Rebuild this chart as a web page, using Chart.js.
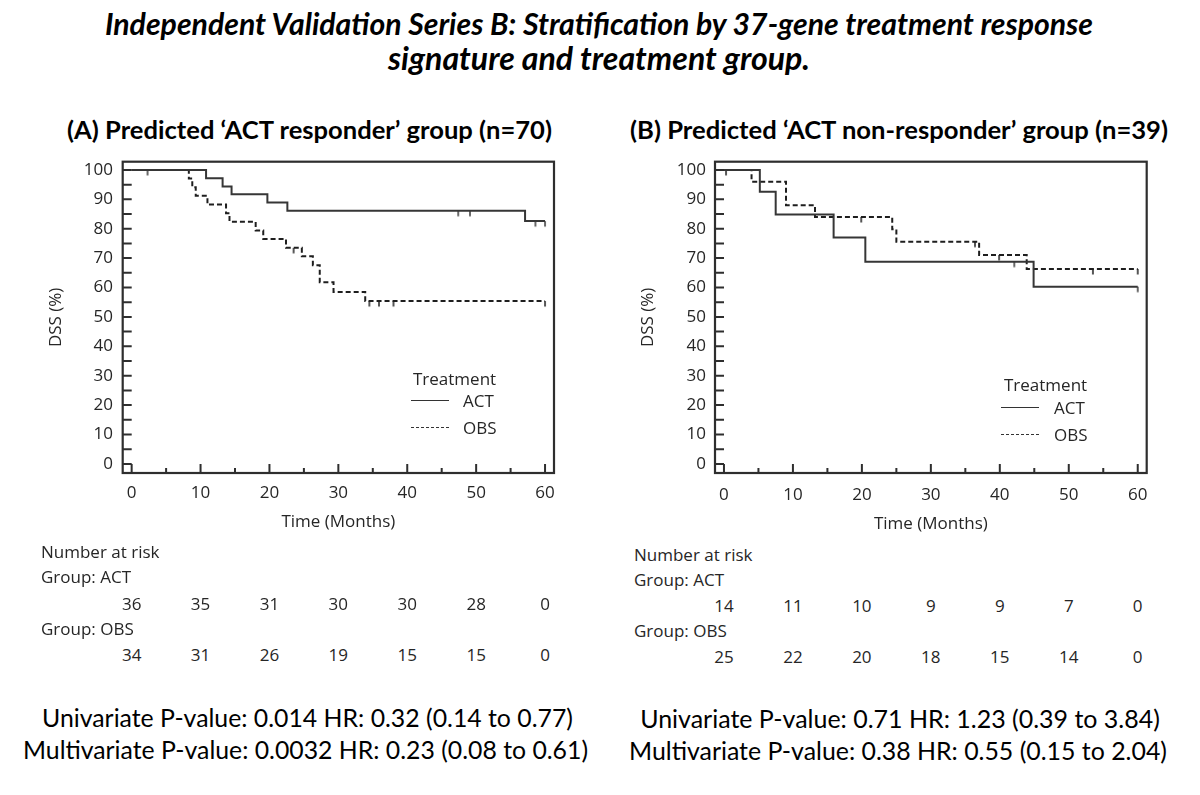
<!DOCTYPE html>
<html><head><meta charset="utf-8">
<script src="https://cdn.jsdelivr.net/npm/chart.js@4.4.1/dist/chart.umd.min.js"></script>
<style>
html,body{margin:0;padding:0;background:#fff;}
body{width:1200px;height:795px;position:relative;overflow:hidden;font-family:"Open Sans",sans-serif;}
.c{position:absolute;white-space:nowrap;line-height:1;transform:translate(-50%,-50%);}
.l{position:absolute;white-space:nowrap;line-height:1;transform:translate(0,-50%);}
.title{font-family:Lato,sans-serif;font-weight:700;font-style:italic;font-size:27px;color:#000;}
.sub{font-family:Lato,sans-serif;font-weight:700;font-size:21px;color:#000;}
.stat{font-family:Lato,sans-serif;font-size:22px;color:#000;}
.ax{font-size:17px;color:#262626;}
.wrap{position:absolute;}
.lg{position:absolute;height:0;width:38px;}
</style></head><body>
<div class="c title" style="left:599px;top:23px" data-w="988">Independent Validation Series B: Stratification by 37-gene treatment response</div>
<div class="c title" style="left:599px;top:58px" data-w="422">signature and treatment group.</div>
<div class="c sub" style="left:309.5px;top:130px" data-w="485">(A) Predicted ‘ACT responder’ group (n=70)</div>
<div class="c sub" style="left:899px;top:130px" data-w="538">(B) Predicted ‘ACT non-responder’ group (n=39)</div>

<div class="wrap" style="left:0;top:150px;width:600px;height:390px"><canvas id="cA" width="600" height="390"></canvas></div>
<div class="wrap" style="left:600px;top:150px;width:600px;height:390px"><canvas id="cB" width="600" height="390"></canvas></div>

<div class="l ax" style="left:413px;top:378px">Treatment</div>
<div class="lg" style="left:411px;top:400px;border-top:1px solid #333"></div>
<div class="l ax" style="left:463px;top:400px">ACT</div>
<div class="lg" style="left:411px;top:426.5px;border-top:1px dashed #333"></div>
<div class="l ax" style="left:463px;top:426.5px">OBS</div>

<div class="l ax" style="left:1004px;top:384px">Treatment</div>
<div class="lg" style="left:1001px;top:407px;border-top:1px solid #333"></div>
<div class="l ax" style="left:1054px;top:407px">ACT</div>
<div class="lg" style="left:1001px;top:434px;border-top:1px dashed #333"></div>
<div class="l ax" style="left:1054px;top:434px">OBS</div>

<div class="l ax" style="left:41px;top:551px">Number at risk</div>
<div class="l ax" style="left:41px;top:576px">Group: ACT</div>
<div class="l ax" style="left:41px;top:628px">Group: OBS</div>
<div class="l ax" style="left:634px;top:554px">Number at risk</div>
<div class="l ax" style="left:634px;top:579px">Group: ACT</div>
<div class="l ax" style="left:634px;top:630px">Group: OBS</div>
<div id="risk"></div>

<div class="c stat" style="left:307.5px;top:718px" data-w="531">Univariate P-value: 0.014 HR: 0.32 (0.14 to 0.77)</div>
<div class="c stat" style="left:305.5px;top:750px" data-w="565">Multivariate P-value: 0.0032 HR: 0.23 (0.08 to 0.61)</div>
<div class="c stat" style="left:900px;top:718px" data-w="520">Univariate P-value: 0.71 HR: 1.23 (0.39 to 3.84)</div>
<div class="c stat" style="left:898px;top:750px" data-w="538">Multivariate P-value: 0.38 HR: 0.55 (0.15 to 2.04)</div>

<script>
// ---- data ----
const timeTicks = [0, 10, 20, 30, 40, 50, 60];
const survTicks = [0, 10, 20, 30, 40, 50, 60, 70, 80, 90, 100];

// Panel A (ACT responder)
const aActTime = [0, 10.8, 13.2, 14.5, 19.7, 22.6, 57.1, 60];
const aActSurv = [100, 97.2, 94.4, 91.7, 88.9, 86.1, 82.6, 82.6];
const aActCensTime = [2.3, 47.4, 49.1, 58.6, 60];
const aActCensSurv = [100, 86.1, 86.1, 82.6, 82.6];
const aObsTime = [0, 8.3, 8.8, 9.3, 11.0, 13.7, 14.2, 18.0, 19.1, 22.4, 24.7, 26.3, 27.3, 29.3, 33.9, 60];
const aObsSurv = [100, 97.1, 94.1, 91.2, 88.2, 85.3, 82.4, 79.4, 76.5, 73.5, 70.6, 67.6, 61.8, 58.5, 55.4, 55.4];
const aObsCensTime = [23.5, 34.5, 35.9, 38.0, 60];
const aObsCensSurv = [73.5, 55.4, 55.4, 55.4, 55.4];

// Panel B (ACT non-responder)
const bActTime = [0, 5.2, 7.5, 15.9, 20.5, 44.9, 60];
const bActSurv = [100, 92.6, 84.8, 77.0, 68.8, 60.3, 60.3];
const bActCensTime = [42.1, 60];
const bActCensSurv = [68.8, 60.3];
const bObsTime = [0, 4.0, 9.0, 13.2, 24.4, 25.0, 37.0, 43.9, 60];
const bObsSurv = [100, 96.0, 88.0, 84.0, 79.8, 75.6, 71.1, 66.3, 66.3];
const bObsCensTime = [0.3, 19.9, 36.4, 39.9, 53.5, 60];
const bObsCensSurv = [100, 84.0, 75.6, 71.1, 66.3, 66.3];

// Number at risk
const riskA_ACT = [36, 35, 31, 30, 30, 28, 0];
const riskA_OBS = [34, 31, 26, 19, 15, 15, 0];
const riskB_ACT = [14, 11, 10, 9, 9, 7, 0];
const riskB_OBS = [25, 22, 20, 18, 15, 14, 0];

// ---- helpers ----
const zip = (t, s) => t.map((v, i) => ({x: v, y: s[i]}));
function censorMark(color) {
  const c = document.createElement('canvas');
  c.width = 4; c.height = 14;
  const g = c.getContext('2d');
  g.strokeStyle = color; g.lineWidth = 1.5;
  g.beginPath(); g.moveTo(2, 7); g.lineTo(2, 12.5); g.stroke();
  return c;
}
const ACT_COL = '#363636', OBS_COL = '#1e1e1e';
const axFont = {family: "'Open Sans'", size: 17};
const axColor = '#262626';

const frameTicks = {
  id: 'frameTicks',
  afterDraw(chart) {
    const {ctx, chartArea: a, scales: {x, y}} = chart;
    ctx.save();
    ctx.strokeStyle = '#2e2e2e';
    ctx.lineWidth = 2.2;
    ctx.strokeRect(a.left, a.top, a.right - a.left, a.bottom - a.top);
    ctx.lineWidth = 2;
    ctx.beginPath();
    for (let v = 0; v <= 100; v += 5) {
      const py = y.getPixelForValue(v);
      ctx.moveTo(a.left, py); ctx.lineTo(a.left + 9, py);
    }
    for (let t = 0; t <= 60; t += 5) {
      const px = x.getPixelForValue(t);
      const len = t % 10 === 0 ? 9 : 5;
      ctx.moveTo(px, a.bottom); ctx.lineTo(px, a.bottom - len);
    }
    ctx.stroke();
    ctx.restore();
  }
};

function makeChart(id, cfg) {
  return new Chart(document.getElementById(id), {
    type: 'scatter',
    data: {
      datasets: [
        {data: zip(cfg.actT, cfg.actS), showLine: true, stepped: true, borderColor: ACT_COL, borderWidth: 2, pointRadius: 0},
        {data: zip(cfg.obsT, cfg.obsS), showLine: true, stepped: true, borderColor: OBS_COL, borderWidth: 2, borderDash: [5, 3], pointRadius: 0},
        {data: zip(cfg.actCT, cfg.actCS), showLine: false, pointStyle: censorMark(ACT_COL), pointRadius: 3},
        {data: zip(cfg.obsCT, cfg.obsCS), showLine: false, pointStyle: censorMark(OBS_COL), pointRadius: 3}
      ]
    },
    options: {
      responsive: false,
      animation: false,
      events: [],
      layout: {padding: {top: 11.7, right: cfg.padRight, bottom: 0, left: 0}},
      plugins: {legend: {display: false}, tooltip: {enabled: false}},
      scales: {
        x: {
          type: 'linear', min: -1.3, max: 61.3,
          afterBuildTicks: s => { s.ticks = timeTicks.map(v => ({value: v})); },
          afterFit: s => { s.height = 67; },
          grid: {display: false, drawTicks: true, tickLength: cfg.xTickLen},
          border: {display: false},
          ticks: {font: axFont, color: axColor, padding: 0, maxRotation: 0, autoSkip: false},
          title: {display: true, text: 'Time (Months)', font: axFont, color: axColor, padding: {top: 0, bottom: cfg.xTitlePad}}
        },
        y: {
          type: 'linear', min: -3.1, max: 102.8,
          afterBuildTicks: s => { s.ticks = survTicks.map(v => ({value: v})); },
          afterFit: s => { s.width = cfg.yWidth; },
          grid: {display: false, drawTicks: true, tickLength: cfg.yTickLen},
          border: {display: false},
          ticks: {font: axFont, color: axColor, padding: 0, autoSkip: false},
          title: {display: true, text: 'DSS (%)', font: axFont, color: axColor, padding: {top: cfg.yTitlePad, bottom: 0}}
        }
      }
    },
    plugins: [frameTicks]
  });
}

const chartA = makeChart('cA', {
  actT: aActTime, actS: aActSurv, obsT: aObsTime, obsS: aObsSurv,
  actCT: aActCensTime, actCS: aActCensSurv, obsCT: aObsCensTime, obsCS: aObsCensSurv,
  padRight: 46, yWidth: 122.7, xTickLen: 9.8, xTitlePad: 7.8, yTickLen: 9.7, yTitlePad: 45.8
});
const chartB = makeChart('cB', {
  actT: bActTime, actS: bActSurv, obsT: bObsTime, obsS: bObsSurv,
  actCT: bActCensTime, actCS: bActCensSurv, obsCT: bObsCensTime, obsCS: bObsCensSurv,
  padRight: 53.3, yWidth: 115, xTickLen: 11.8, xTitlePad: 5.8, yTickLen: 9, yTitlePad: 37.8
});

// number at risk rows, aligned to the x scale of each chart
function riskRow(chart, offsetX, values, top) {
  const host = document.getElementById('risk');
  values.forEach((v, i) => {
    const d = document.createElement('div');
    d.className = 'c ax';
    d.style.left = (offsetX + chart.scales.x.getPixelForValue(timeTicks[i])) + 'px';
    d.style.top = top + 'px';
    d.textContent = v;
    host.appendChild(d);
  });
}
riskRow(chartA, 0, riskA_ACT, 603);
riskRow(chartA, 0, riskA_OBS, 654);
riskRow(chartB, 600, riskB_ACT, 605);
riskRow(chartB, 600, riskB_OBS, 656);

// fit headline widths
document.querySelectorAll('[data-w]').forEach(el => {
  const w = el.getBoundingClientRect().width;
  const fs = parseFloat(getComputedStyle(el).fontSize);
  el.style.fontSize = (fs * parseFloat(el.dataset.w) / w).toFixed(2) + 'px';
});
</script>
</body></html>
